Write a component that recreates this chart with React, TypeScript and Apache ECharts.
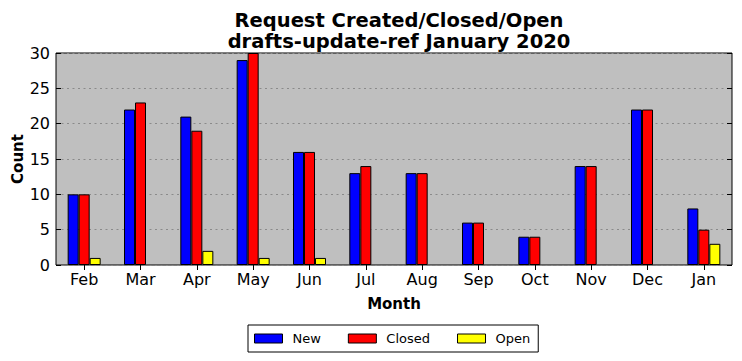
import React, { useEffect, useRef } from "react";
import * as echarts from "echarts";

const months = ["Feb", "Mar", "Apr", "May", "Jun", "Jul", "Aug", "Sep", "Oct", "Nov", "Dec", "Jan"];
const newVals = [10, 22, 21, 29, 16, 13, 13, 6, 4, 14, 22, 8];
const closedVals = [10, 23, 19, 30, 16, 14, 13, 6, 4, 14, 22, 5];
const openVals = [1, 0, 2, 1, 1, 0, 0, 0, 0, 0, 0, 3];

const FONT = "DejaVu Sans";

export default function App() {
  const ref = useRef<HTMLDivElement>(null);
  useEffect(() => {
    const chart = echarts.init(ref.current!, null, { renderer: "svg" });
    const bar = (name: string, data: number[], color: string) => ({
      name,
      type: "bar",
      data: data.map((v) => (v === 0 ? { value: v, itemStyle: { borderWidth: 0 } } : v)),
      barWidth: 11,
      barGap: "0%",
      itemStyle: { color, borderColor: "#000", borderWidth: 1 },
    });
    chart.setOption({
      animation: false,
      textStyle: { fontFamily: FONT },
      title: {
        text: "Request Created/Closed/Open\ndrafts-update-ref January 2020",
        left: 394,
        textAlign: "center",
        top: 5,
        textStyle: { fontFamily: FONT, fontSize: 19.5, fontWeight: "bold", color: "#000", lineHeight: 21 },
      },
      grid: {
        left: 56,
        right: 10,
        top: 53,
        bottom: 96,
        containLabel: false,
        outerBoundsMode: "none",
        show: true,
        backgroundColor: "#bfbfbf",
        borderColor: "#000",
        borderWidth: 1,
      },
      legend: {
        bottom: 9,
        left: 248,
        data: ["New", "Closed", "Open"],
        icon: "rect",
        itemWidth: 28,
        itemHeight: 9,
        itemGap: 27,
        padding: [7, 8, 7, 6],
        borderColor: "#000",
        borderWidth: 1,
        itemStyle: { borderColor: "#000", borderWidth: 1 },
        textStyle: { fontFamily: FONT, fontSize: 13, color: "#000", padding: [0, 0, 0, 5] },
      },
      xAxis: [
        {
          type: "category",
          data: months,
          name: "Month",
          nameLocation: "middle",
          nameGap: 31,
          nameMoveOverlap: false,
          nameTextStyle: { fontFamily: FONT, fontSize: 15, fontWeight: "bold", color: "#000" },
          axisLine: { show: false },
          axisTick: { show: true, inside: true, alignWithLabel: true, length: 5, lineStyle: { color: "#000" } },
          axisLabel: { fontFamily: FONT, fontSize: 16, color: "#000", margin: 6 },
        },
        {
          type: "category",
          data: months,
          position: "top",
          axisLine: { show: false },
          axisTick: { show: true, inside: true, alignWithLabel: true, length: 5, lineStyle: { color: "#000" } },
          axisLabel: { show: false },
        },
      ],
      yAxis: [
        {
          type: "value",
          min: 0,
          max: 30,
          interval: 5,
          name: "Count",
          nameLocation: "middle",
          nameGap: 31,
          nameMoveOverlap: false,
          nameTextStyle: { fontFamily: FONT, fontSize: 15, fontWeight: "bold", color: "#000" },
          axisLine: { show: false },
          axisTick: { show: true, inside: true, length: 5, lineStyle: { color: "#000" } },
          axisLabel: { fontFamily: FONT, fontSize: 16, color: "#000", margin: 6 },
          splitLine: { show: true, lineStyle: { color: "#8a8a8a", type: [2, 3.5], width: 1 } },
        },
        {
          type: "value",
          min: 0,
          max: 30,
          interval: 5,
          position: "right",
          axisLine: { show: false },
          axisTick: { show: true, inside: true, length: 5, lineStyle: { color: "#000" } },
          axisLabel: { show: false },
          splitLine: { show: false },
        },
      ],
      series: [
        bar("New", newVals, "#0000ff"),
        bar("Closed", closedVals, "#ff0000"),
        bar("Open", openVals, "#ffff00"),
      ],
    });
    return () => chart.dispose();
  }, []);
  return <div ref={ref} style={{ width: 742, height: 361, position: "absolute", left: 0, top: 0 }} />;
}
